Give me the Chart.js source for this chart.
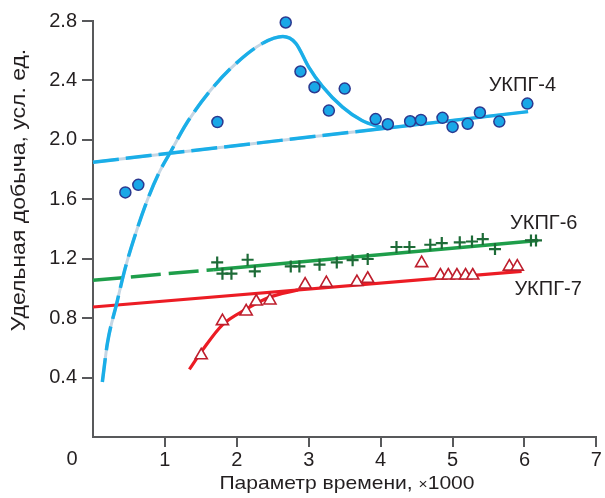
<!DOCTYPE html>
<html>
<head>
<meta charset="utf-8">
<script src="https://cdn.jsdelivr.net/npm/chart.js@4"></script>
<style>
  html, body { margin: 0; padding: 0; background: #fff; }
  #wrap { width: 605px; height: 498px; position: relative; }
</style>
</head>
<body>
<div id="wrap"><canvas id="chart"></canvas></div>
<script>
// --- data ---
var xTicks = [0, 1, 2, 3, 4, 5, 6, 7];
var yTicks = [0.4, 0.8, 1.2, 1.6, 2.0, 2.4, 2.8];

// УКПГ-4 measured points
var ukpg4X = [0.45, 0.63, 1.73, 2.68, 2.885, 3.08, 3.28, 3.5, 3.93, 4.10, 4.41, 4.56, 4.86, 5.0, 5.21, 5.38, 5.65, 6.04];
var ukpg4Y = [1.646, 1.697, 2.12, 2.79, 2.46, 2.354, 2.197, 2.345, 2.14, 2.105, 2.125, 2.134, 2.148, 2.087, 2.108, 2.184, 2.123, 2.244];
// УКПГ-4 trend (straight) and curve
var trend4X = [0, 3.65, 6.05];
var trend4Y = [1.85, 2.055, 2.19];
var curve4X = [0.13, 0.2, 0.33, 0.45, 0.6, 0.76, 0.93, 1.08, 1.3, 1.62, 1.99, 2.36, 2.64, 2.82, 3.0, 3.19, 3.47, 3.74, 3.97, 4.1];
var curve4Y = [0.37, 0.63, 0.9, 1.14, 1.38, 1.6, 1.79, 1.92, 2.11, 2.325, 2.515, 2.65, 2.695, 2.65, 2.49, 2.36, 2.22, 2.13, 2.09, 2.075];

// УКПГ-6
var ukpg6X = [1.727, 1.80, 1.925, 2.15, 2.25, 2.75, 2.87, 3.15, 3.39, 3.61, 3.82, 4.22, 4.40, 4.69, 4.85, 5.10, 5.27, 5.42, 5.59, 6.09, 6.16];
var ukpg6Y = [1.175, 1.099, 1.099, 1.193, 1.115, 1.148, 1.148, 1.16, 1.175, 1.19, 1.198, 1.279, 1.279, 1.294, 1.305, 1.31, 1.316, 1.332, 1.265, 1.323, 1.323];
var trend6X = [0, 1.67, 6.19];
var trend6Y = [1.055, 1.126, 1.323];

// УКПГ-7
var ukpg7X = [1.505, 1.80, 2.13, 2.27, 2.46, 2.95, 3.245, 3.67, 3.82, 4.57, 4.83, 4.94, 5.06, 5.18, 5.28, 5.79, 5.90];
var ukpg7Y = [0.55, 0.78, 0.845, 0.912, 0.919, 1.026, 1.036, 1.043, 1.065, 1.17, 1.087, 1.087, 1.087, 1.087, 1.087, 1.147, 1.147];
var trend7X = [0, 5.96];
var trend7Y = [0.875, 1.115];
var curve7X = [1.34, 1.53, 1.8, 2.13, 2.45, 2.85];
var curve7Y = [0.455, 0.59, 0.755, 0.86, 0.94, 0.99];

var seriesLabels = [
  { text: 'УКПГ-4', x: 5.97, y: 2.363, align: 'center' },
  { text: 'УКПГ-6', x: 5.80, y: 1.435, align: 'left' },
  { text: 'УКПГ-7', x: 5.86, y: 0.99, align: 'left' }
];

function pts(xs, ys) {
  return xs.map(function (x, i) { return { x: x, y: ys[i] }; });
}

var BLUE = '#1aaee8';
var GREEN = '#1e9e4a';
var RED = '#ec1c24';
var FONT = '"Liberation Sans", Arial, sans-serif';

function dashBefore(limit, pattern) {
  return function (ctx) { return ctx.p0.parsed.x < limit ? pattern : undefined; };
}

var annotate = {
  id: 'annotate',
  afterDraw: function (chart) {
    var ctx = chart.ctx;
    var xs = chart.scales.x, ys = chart.scales.y;
    ctx.save();
    ctx.fillStyle = '#231f20';
    ctx.textBaseline = 'middle';

    ctx.font = '20px ' + FONT;
    seriesLabels.forEach(function (l) {
      ctx.textAlign = l.align;
      ctx.fillText(l.text, xs.getPixelForValue(l.x), ys.getPixelForValue(l.y));
    });

    // origin label
    ctx.font = '20px ' + FONT;
    ctx.textAlign = 'center';
    ctx.fillText('0', 72, 459);

    // x title with small multiplication sign (text is a little wider in the original)
    var t1 = 'Параметр времени, ', t2 = '×', t3 = '1000';
    ctx.save();
    ctx.translate(347, 484);
    ctx.scale(1.11, 1);
    ctx.font = '19px ' + FONT;
    var w1 = ctx.measureText(t1).width, w3 = ctx.measureText(t3).width;
    ctx.font = '14px ' + FONT;
    var w2 = ctx.measureText(t2).width;
    var x0 = -(w1 + w2 + w3) / 2;
    ctx.textAlign = 'left';
    ctx.font = '19px ' + FONT;
    ctx.fillText(t1, x0, 0);
    ctx.font = '14px ' + FONT;
    ctx.fillText(t2, x0 + w1, 1);
    ctx.font = '19px ' + FONT;
    ctx.fillText(t3, x0 + w1 + w2, 0);
    ctx.restore();

    // y title
    ctx.translate(19, 190);
    ctx.rotate(-Math.PI / 2);
    ctx.scale(1.15, 1);
    ctx.textAlign = 'center';
    ctx.font = '20px ' + FONT;
    ctx.fillText('Удельная добыча, усл. ед.', 0, 0);
    ctx.restore();
  }
};

new Chart(document.getElementById('chart'), {
  type: 'scatter',
  data: {
    datasets: [
      {
        label: 'УКПГ-4',
        data: pts(ukpg4X, ukpg4Y),
        pointStyle: 'circle', pointRadius: 5.5,
        backgroundColor: '#19a7e7', borderColor: '#2b3990', borderWidth: 1.5,
        order: 0, clip: false
      },
      {
        label: 'УКПГ-6',
        data: pts(ukpg6X, ukpg6Y),
        pointStyle: 'cross', pointRadius: 6,
        borderColor: '#1d6b37', borderWidth: 2.2,
        order: 0, clip: false
      },
      {
        label: 'УКПГ-7',
        data: pts(ukpg7X, ukpg7Y),
        pointStyle: 'triangle', pointRadius: 7,
        backgroundColor: '#ffffff', borderColor: '#be1e2d', borderWidth: 1.6,
        order: 0, clip: false
      },
      {
        type: 'line', data: pts(trend4X, trend4Y),
        borderColor: BLUE, borderWidth: 3.5, pointRadius: 0,
        segment: { borderDash: dashBefore(3.6, [26, 7]) },
        order: 1, clip: false
      },
      {
        type: 'line', data: pts(curve4X, curve4Y),
        borderColor: BLUE, borderWidth: 3.5, pointRadius: 0,
        cubicInterpolationMode: 'monotone',
        segment: { borderDash: dashBefore(2.36, [24, 8]) },
        order: 1, clip: false
      },
      {
        // pale under-layer that shows through the blue dash gaps
        type: 'line', data: pts(trend4X, trend4Y),
        borderColor: '#c4d6e4', borderWidth: 3, pointRadius: 0,
        order: 3, clip: false
      },
      {
        type: 'line', data: pts(curve4X, curve4Y),
        borderColor: '#c4d6e4', borderWidth: 3, pointRadius: 0,
        cubicInterpolationMode: 'monotone',
        order: 3, clip: false
      },
      {
        type: 'line', data: pts(trend6X, trend6Y),
        borderColor: GREEN, borderWidth: 3.5, pointRadius: 0,
        segment: { borderDash: dashBefore(1.6, [30, 8]) },
        order: 1, clip: false
      },
      {
        type: 'line', data: pts(trend7X, trend7Y),
        borderColor: RED, borderWidth: 3.2, pointRadius: 0,
        order: 1, clip: false
      },
      {
        type: 'line', data: pts(curve7X, curve7Y),
        borderColor: RED, borderWidth: 3.2, pointRadius: 0,
        cubicInterpolationMode: 'monotone',
        order: 1, clip: false
      }
    ]
  },
  options: {
    responsive: true,
    maintainAspectRatio: false,
    animation: false,
    layout: { padding: { top: 21, right: 7, left: 0, bottom: 0 } },
    plugins: { legend: { display: false }, tooltip: { enabled: false } },
    scales: {
      x: {
        type: 'linear', min: 0, max: 7,
        afterBuildTicks: function (s) { s.ticks = xTicks.map(function (v) { return { value: v }; }); },
        afterFit: function (s) { s.height = 61; },
        border: { color: '#58595b', width: 2 },
        grid: {
          drawOnChartArea: false, drawTicks: true, tickLength: 10, lineWidth: 2,
          color: function (c) { return c.tick && c.tick.value === 0 ? 'rgba(0,0,0,0)' : '#58595b'; }
        },
        ticks: {
          padding: 1, color: '#231f20', font: { family: FONT, size: 20 },
          maxRotation: 0, autoSkip: false,
          callback: function (v) { return v === 0 ? '' : String(v); }
        }
      },
      y: {
        type: 'linear', min: 0, max: 2.8,
        afterBuildTicks: function (s) { s.ticks = yTicks.map(function (v) { return { value: v }; }); },
        afterFit: function (s) { s.width = 93; },
        border: { color: '#58595b', width: 2 },
        grid: {
          drawOnChartArea: false, drawTicks: true, tickLength: 11, lineWidth: 2,
          color: '#58595b'
        },
        ticks: {
          padding: 5, color: '#231f20', font: { family: FONT, size: 20 },
          callback: function (v) { return v.toFixed(1); }
        }
      }
    }
  },
  plugins: [annotate]
});
</script>
</body>
</html>
